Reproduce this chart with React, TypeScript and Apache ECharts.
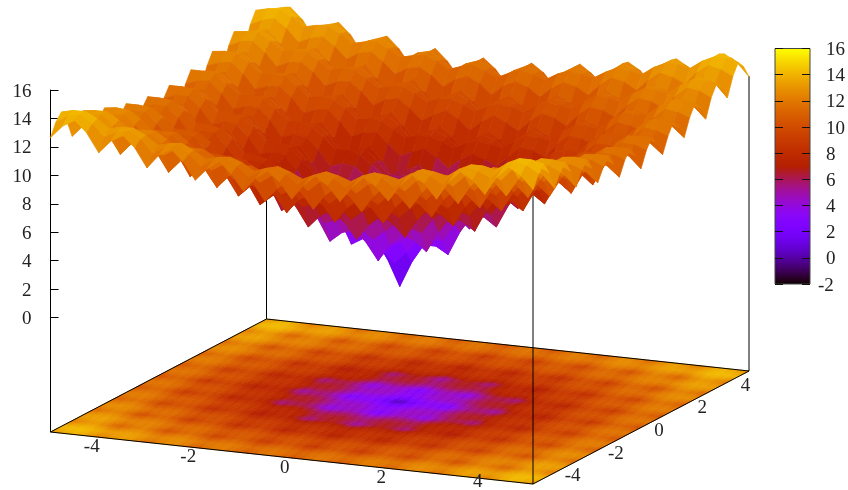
import React, { useEffect, useRef } from "react";
import * as echarts from "echarts";

// Surface heights, estimated by hand from the picture as a bowl with a regular ripple.
// The picture is symmetric, so one triangular wedge of the grid is listed:
// row k holds the grid points (k, k), (k+1, k), ... counted in steps of 0.25 from the centre.
const row0 = [0,1.8,3.1,3.1,2.6,4.3,5.5,5.5,4.9,6.5,7.7,7.5,6.9,8.4,9.5,9.3,8.6,10.1,11.1,10.9,10.1];
const row1 = [2.7,3.6,3.8,3.8,5.0,6.0,6.2,6.0,7.2,8.1,8.2,8.0,9.1,9.9,10.0,9.7,10.8,11.5,11.5,11.2];
const row2 = [4.3,4.5,4.6,5.6,6.4,6.7,6.8,7.7,8.4,8.6,8.7,9.6,10.2,10.4,10.4,11.2,11.8,11.9,11.9];
const row3 = [4.5,4.3,5.4,6.3,6.5,6.3,7.4,8.3,8.4,8.2,9.2,10.1,10.1,9.8,10.9,11.6,11.6,11.3];
const row4 = [3.6,5.1,6.2,6.0,5.4,7.0,8.1,7.8,7.2,8.7,9.8,9.5,8.8,10.3,11.3,11.0,10.3];
const row5 = [6.2,6.9,7.0,6.7,7.8,8.6,8.7,8.4,9.5,10.3,10.3,10.0,11.0,11.8,11.7,11.4];
const row6 = [7.5,7.7,7.7,8.5,9.1,9.3,9.3,10.1,10.7,10.8,10.8,11.5,12.1,12.2,12.2];
const row7 = [7.6,7.3,8.4,9.1,9.1,8.8,9.9,10.6,10.6,10.3,11.3,12.0,12.0,11.6];
const row8 = [6.6,8.0,9.0,8.7,8.0,9.4,10.4,10.1,9.4,10.8,11.8,11.4,10.7];
const row9 = [9.0,9.7,9.6,9.3,10.3,11.0,10.9,10.6,11.6,12.3,12.2,11.9];
const row10 = [10.2,10.3,10.2,10.9,11.5,11.5,11.5,12.2,12.7,12.8,12.7];
const row11 = [10.2,9.8,10.8,11.5,11.4,11.0,12.0,12.6,12.5,12.2];
const row12 = [9.0,10.4,11.3,10.9,10.1,11.5,12.4,12.0,11.2];
const row13 = [11.3,11.9,11.8,11.4,12.3,13.0,12.9,12.5];
const row14 = [12.4,12.4,12.3,12.9,13.4,13.4,13.3];
const row15 = [12.3,11.9,12.7,13.4,13.2,12.8];
const row16 = [11.0,12.3,13.2,12.8,11.9];
const row17 = [13.2,13.8,13.6,13.2];
const row18 = [14.2,14.2,14.0];
const row19 = [14.0,13.5];
const row20 = [12.6];
const wedge = [row0,row1,row2,row3,row4,row5,row6,row7,row8,row9,row10,row11,row12,row13,row14,row15,row16,row17,row18,row19,row20];

const xTicks = [-4, -2, 0, 2, 4];
const yTicks = [-4, -2, 0, 2, 4];
const zRange = [0, 16];
const cbRange = [-2, 16];
const cornerHeight = 12.64;

const FONT = "Liberation Serif, DejaVu Serif, serif";
const N = 40;
const FLOOR_SHADES = 3;

function zAt(ix: number, iy: number) {
  const a = Math.abs(ix - 20);
  const b = Math.abs(iy - 20);
  const hi = Math.max(a, b);
  const lo = Math.min(a, b);
  return wedge[lo][hi - lo];
}

// The fixed oblique view onto a hidden pixel-scaled cartesian system.
const BASE_Z = -8.1;
function project(x: number, y: number, z: number): [number, number] {
  const u = (x + 5) / 10;
  const v = (y + 5) / 10;
  return [50.5 + u * 482.5 + v * 216, 432 + u * 52 - v * 113 - (z - BASE_Z) * 14.22];
}

// gnuplot's 7,5,15 palette.
function paletteColor(g: number) {
  const t = Math.max(0, Math.min(1, g));
  const r = Math.sqrt(t);
  const gr = t * t * t;
  const b = Math.max(0, Math.sin(2 * Math.PI * t));
  const h = (c: number) => Math.round(c * 255);
  return `rgb(${h(r)},${h(gr)},${h(b)})`;
}
const colorOf = (z: number) => paletteColor((z - cbRange[0]) / (cbRange[1] - cbRange[0]));

const cells: number[][] = [];
for (let ix = 0; ix < N; ix++) for (let iy = 0; iy < N; iy++) cells.push([ix, iy]);
const depth = (c: number[]) => 52 * (c[0] + 0.5) - 113 * (c[1] + 0.5);
const sortedCells = [...cells].sort((p, q) => depth(p) - depth(q));

const coordOf = (i: number) => -5 + i * 0.25;

function surfaceCell(ix: number, iy: number, api: any) {
  const corners = [[ix, iy], [ix + 1, iy], [ix + 1, iy + 1], [ix, iy + 1]];
  const zs = corners.map((c) => zAt(c[0], c[1]));
  const mean = zs.reduce((s, z) => s + z, 0) / 4;
  const points = corners.map((c, k) => api.coord(project(coordOf(c[0]), coordOf(c[1]), zs[k])));
  const fill = colorOf(mean);
  return { type: "polygon", shape: { points }, style: { fill, stroke: fill, lineWidth: 0.7 }, silent: true };
}

// The floor map: one cell of the data, shaded in a few steps so the colours blend.
function floorCell(ix: number, iy: number, api: any) {
  const z00 = zAt(ix, iy);
  const z10 = zAt(ix + 1, iy);
  const z01 = zAt(ix, iy + 1);
  const z11 = zAt(ix + 1, iy + 1);
  const children: any[] = [];
  const n = FLOOR_SHADES;
  for (let a = 0; a < n; a++) {
    for (let b = 0; b < n; b++) {
      const s = (a + 0.5) / n;
      const t = (b + 0.5) / n;
      const shade = (1 - s) * (1 - t) * z00 + s * (1 - t) * z10 + (1 - s) * t * z01 + s * t * z11;
      const fill = colorOf(shade);
      const points = [[a, b], [a + 1, b], [a + 1, b + 1], [a, b + 1]].map((c) =>
        api.coord(project(coordOf(ix + c[0] / n), coordOf(iy + c[1] / n), BASE_Z))
      );
      children.push({ type: "polygon", shape: { points }, style: { fill, stroke: fill, lineWidth: 0.6 }, silent: true });
    }
  }
  return { type: "group", children };
}

const baseEdges = [
  [-5, -5, BASE_Z, 5, -5, BASE_Z],
  [5, -5, BASE_Z, 5, 5, BASE_Z],
  [5, 5, BASE_Z, -5, 5, BASE_Z],
  [-5, 5, BASE_Z, -5, -5, BASE_Z],
  [-5, -5, BASE_Z, -5, -5, 0],
  [5, -5, BASE_Z, 5, -5, cornerHeight],
  [5, 5, BASE_Z, 5, 5, cornerHeight],
  [-5, 5, BASE_Z, -5, 5, cornerHeight],
];

const stops = Array.from({ length: 129 }, (_, i) => ({ offset: i / 128, color: paletteColor(1 - i / 128) }));

const baseLabels = [
  ...xTicks.map((t) => ({ text: String(t), pos: project(t, -5, BASE_Z), dx: -7, dy: 8 })),
  ...yTicks.map((t) => ({ text: String(t), pos: project(5, t, BASE_Z), dx: 18, dy: 2 })),
];

export default function App() {
  const ref = useRef<HTMLDivElement>(null);
  useEffect(() => {
    document.body.style.margin = "0";
    const chart = echarts.init(ref.current!, undefined, { renderer: "svg" });
    const labelStyle = { fontFamily: FONT, fontSize: 19, color: "#222" };
    chart.setOption({
      animation: false,
      backgroundColor: "#fff",
      grid: [
        { left: 0, top: 0, width: 848, height: 490 },
        { left: 50.5, top: 90, width: 1, height: 227.5 },
        { left: 775, top: 48.5, width: 37, height: 235.5 },
      ],
      xAxis: [
        { type: "value", gridIndex: 0, min: 0, max: 848, show: false },
        { type: "value", gridIndex: 1, min: 0, max: 1, show: false },
        { type: "value", gridIndex: 2, min: 0, max: 1, show: false },
      ],
      yAxis: [
        { type: "value", gridIndex: 0, min: 0, max: 490, inverse: true, show: false },
        {
          type: "value", gridIndex: 1, position: "left", min: zRange[0], max: zRange[1], interval: 2,
          axisLine: { show: true, lineStyle: { color: "#000", width: 1 } },
          axisTick: { show: true, inside: true, length: 8, lineStyle: { color: "#000" } },
          axisLabel: { ...labelStyle, margin: 19 },
          splitLine: { show: false },
        },
        {
          type: "value", gridIndex: 2, position: "left", min: cbRange[0], max: cbRange[1], interval: 2, z: 5,
          axisLine: { show: false },
          axisTick: { show: true, inside: true, length: 8, lineStyle: { color: "#111" } },
          axisLabel: { show: false },
          splitLine: { show: false },
        },
        {
          type: "value", gridIndex: 2, position: "right", min: cbRange[0], max: cbRange[1], interval: 2, z: 5,
          axisLine: { show: false },
          axisTick: { show: true, inside: true, length: 8, lineStyle: { color: "#111" } },
          axisLabel: { ...labelStyle, margin: 16, formatter: (v: number) => (v === cbRange[0] ? "" : String(v)) },
          splitLine: { show: false },
        },
      ],
      series: [
        {
          type: "custom", xAxisIndex: 0, yAxisIndex: 0, z: 1, clip: false, silent: true, progressive: 0,
          data: cells,
          renderItem: (_: any, api: any) => floorCell(api.value(0), api.value(1), api),
        },
        {
          type: "custom", xAxisIndex: 0, yAxisIndex: 0, z: 2, clip: false, silent: true, progressive: 0,
          data: baseEdges,
          renderItem: (_: any, api: any) => {
            const a = api.coord(project(api.value(0), api.value(1), api.value(2)));
            const b = api.coord(project(api.value(3), api.value(4), api.value(5)));
            return {
              type: "line",
              shape: { x1: a[0], y1: a[1], x2: b[0], y2: b[1] },
              style: { stroke: "#000", lineWidth: 1 },
              silent: true,
            };
          },
        },
        {
          type: "custom", xAxisIndex: 0, yAxisIndex: 0, z: 3, clip: false, silent: true, progressive: 0,
          data: sortedCells,
          renderItem: (_: any, api: any) => surfaceCell(api.value(0), api.value(1), api),
        },
        {
          type: "custom", xAxisIndex: 0, yAxisIndex: 0, z: 4, clip: false, silent: true, progressive: 0,
          data: baseLabels.map((l, i) => [l.pos[0] + l.dx, Math.min(l.pos[1] + l.dy, 480.5), i]),
          renderItem: (_: any, api: any) => {
            const p = api.coord([api.value(0), api.value(1)]);
            return {
              type: "text", x: p[0], y: p[1], silent: true,
              style: {
                text: baseLabels[api.value(2)].text, fill: "#222", font: `19px ${FONT}`,
                align: "center", verticalAlign: "middle",
              },
            };
          },
        },
        {
          type: "custom", xAxisIndex: 2, yAxisIndex: 2, z: 2, clip: false, silent: true,
          data: [[0, cbRange[0], 1, cbRange[1]]],
          renderItem: (_: any, api: any) => {
            const a = api.coord([api.value(0), api.value(3)]);
            const b = api.coord([api.value(2), api.value(1)]);
            return {
              type: "group",
              children: [
                {
                  type: "rect",
                  shape: { x: a[0], y: a[1], width: b[0] - a[0], height: b[1] - a[1] },
                  style: {
                    fill: new echarts.graphic.LinearGradient(0, 0, 0, 1, stops),
                    stroke: "#444", lineWidth: 1,
                  },
                },
                {
                  type: "text", x: b[0] + 8, y: b[1],
                  style: {
                    text: String(api.value(1)), fill: "#222", font: `19px ${FONT}`,
                    align: "left", verticalAlign: "middle",
                  },
                },
              ],
            };
          },
        },
      ],
    });
    return () => chart.dispose();
  }, []);
  return (
    <div
      ref={ref}
      style={{ position: "absolute", left: 0, top: 0, width: 848, height: 490, filter: "blur(0.4px)" }}
    />
  );
}
